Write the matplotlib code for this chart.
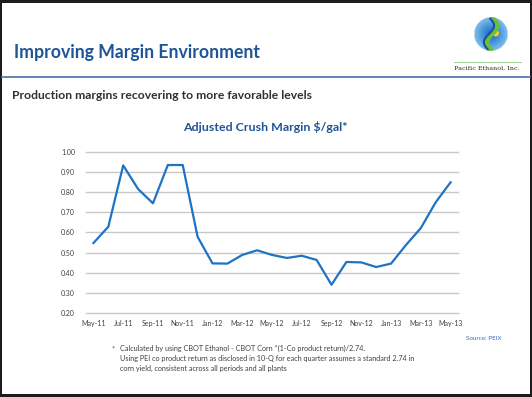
import numpy as np
from matplotlib import pyplot as plt
from matplotlib.patches import Rectangle, Ellipse, Circle

plt.rcParams['font.family'] = ['Lato', 'DejaVu Sans']

# monthly adjusted crush margin, $/gal
months = ["May-11", "Jun-11", "Jul-11", "Aug-11", "Sep-11", "Oct-11", "Nov-11",
          "Dec-11", "Jan-12", "Feb-12", "Mar-12", "Apr-12", "May-12", "Jun-12",
          "Jul-12", "Aug-12", "Sep-12", "Oct-12", "Nov-12", "Dec-12", "Jan-13",
          "Feb-13", "Mar-13", "Apr-13", "May-13"]
margin = [0.547, 0.628, 0.932, 0.815, 0.744, 0.934, 0.934,
          0.578, 0.446, 0.445, 0.488, 0.511, 0.488, 0.473,
          0.484, 0.463, 0.340, 0.453, 0.451, 0.428, 0.445,
          0.537, 0.621, 0.749, 0.848]
yticks = [0.20, 0.30, 0.40, 0.50, 0.60, 0.70, 0.80, 0.90, 1.00]

W, H = 532, 397
BLUE = "#1f5597"
LINE = "#1f72c4"

fig = plt.figure(figsize=(W / 100, H / 100), dpi=100, facecolor="#1c1c1c")

# slide background in pixel coordinates
bg = fig.add_axes([0, 0, 1, 1])
bg.set_xlim(0, W)
bg.set_ylim(H, 0)
bg.axis("off")
bg.add_patch(Rectangle((2, 3), 528, 391, facecolor="white", edgecolor="none"))
bg.plot([2, 530], [77, 77], color="#4a72a8", lw=1.2)
bg.plot([454, 521], [62, 62], color="#a8d4a0", lw=0.8)

bg.text(14, 58, "Improving Margin Environment", color=BLUE, fontsize=12.7,
        fontweight="bold", va="baseline")
bg.text(12, 99, "Production margins recovering to more favorable levels",
        color="#303030", fontsize=8.7, fontweight="bold", va="baseline")
bg.text(265, 131, "Adjusted Crush Margin $/gal*", color=BLUE, fontsize=8.9,
        fontweight="bold", va="baseline", ha="center")
bg.text(466, 340, "Source: PEIX", color="#3a6db5", fontsize=4.5, va="baseline")
bg.text(112, 351, "*", color="#404040", fontsize=5.2, va="baseline")
bg.text(120, 345, "Calculated by using CBOT Ethanol - CBOT Corn *(1-Co product return)/2.74.\n"
        "Using PEI co product return as disclosed in 10-Q for each quarter assumes a standard 2.74 in\n"
        "corn yield, consistent across all periods and all plants",
        color="#404040", fontsize=5.2, va="top", linespacing=1.45)
bg.text(487, 70, "Pacific Ethanol, Inc.", color="#303030", fontsize=4.6,
        family="DejaVu Serif", ha="center", va="baseline")

# logo
logo = fig.add_axes([474 / W, 1 - 54 / H, 34 / W, 40 / H])
logo.axis("off")
gx, gy = np.meshgrid(np.linspace(-1, 1, 80), np.linspace(-1, 1, 80))
r = np.sqrt(gx ** 2 + gy ** 2)
img = np.ones((80, 80, 4))
img[..., 0] = 0.05 + 0.45 * r
img[..., 1] = 0.40 + 0.35 * r
img[..., 2] = 0.80 + 0.12 * r
img[..., 3] = np.where(r <= 1, 1, 0)
logo.imshow(np.clip(img, 0, 1), extent=[-1, 1, -1, 1])
clip = Circle((0, 0), 1, transform=logo.transData)
t = np.linspace(-0.9, 0.9, 50)
s1, = logo.plot(0.3 * np.sin(t * 3.2) + 0.05, t, color="#6cbf3a", lw=3.5)
s2, = logo.plot(0.3 * np.sin(t * 3.2) - 0.12, t, color="#1a4f9e", lw=1.5)
sun = logo.add_patch(Ellipse((0.28, 0.05), 0.3, 0.3, color="#f5d020"))
for a in (s1, s2, sun):
    a.set_clip_path(clip)
logo.set_xlim(-1, 1)
logo.set_ylim(-1, 1)

# chart
ax = fig.add_axes([86 / W, 1 - 313 / H, 372 / W, 161.3 / H])
x = np.arange(len(months))
ax.plot(x, margin, color=LINE, lw=1.6, zorder=3)
ax.set_xlim(-0.5, len(months) - 0.5)
ax.set_ylim(0.2, 1.0)
ax.set_yticks(yticks)
ax.set_yticklabels([f"{v:.2f}" for v in yticks])
ax.set_xticks(x[::2])
ax.set_xticklabels(months[::2])
ax.grid(axis="y", color="#c8c8c8", lw=1.0, clip_on=False)
for s in ax.spines.values():
    s.set_visible(False)
ax.tick_params(length=0, labelsize=5, colors="#404040")
ax.tick_params(axis="y", pad=8)
ax.tick_params(axis="x", pad=5)
ax.set_facecolor("none")

fig.savefig("out.png", dpi=100, facecolor=fig.get_facecolor())
